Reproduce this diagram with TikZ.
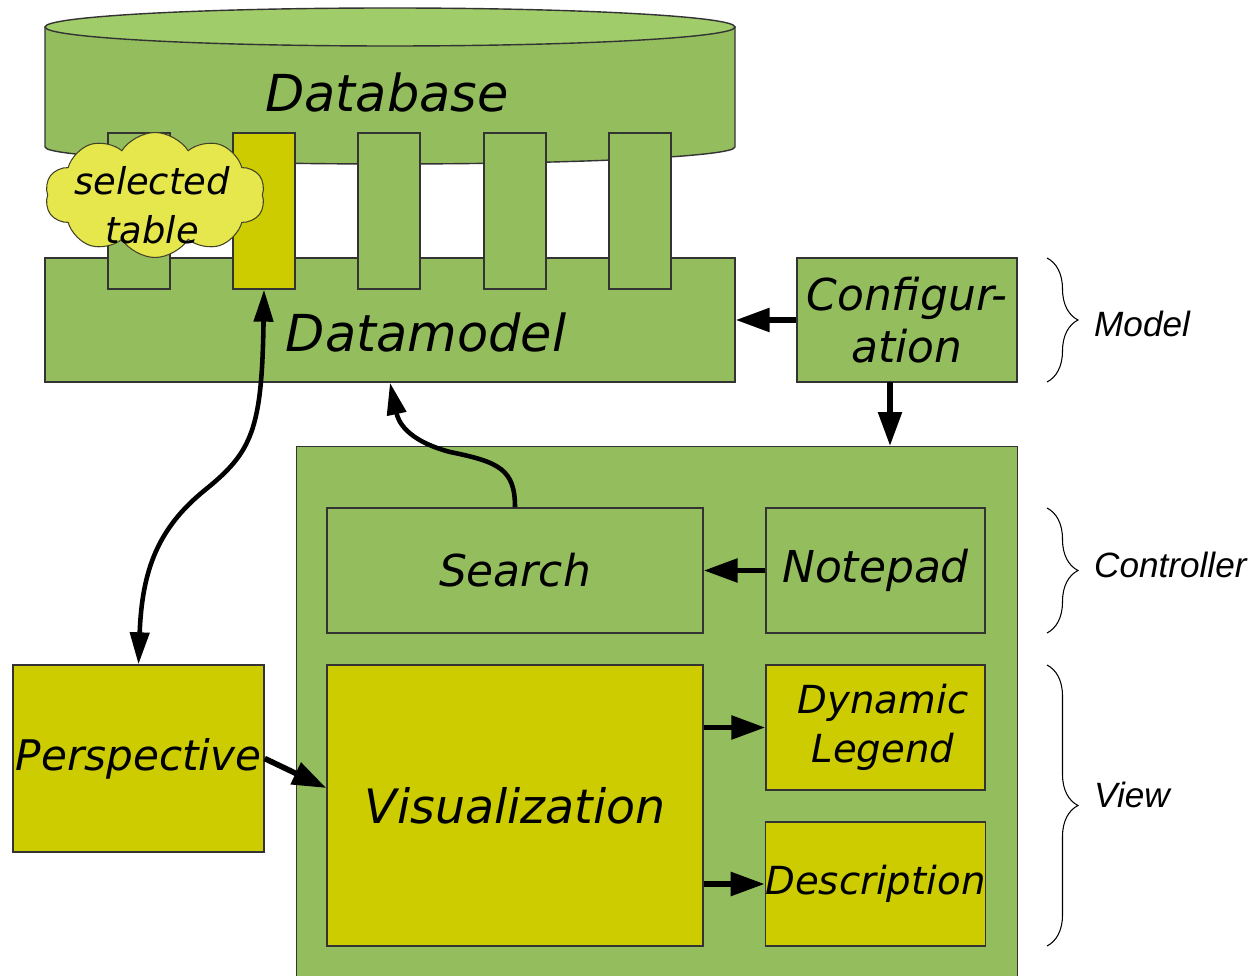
\documentclass[tikz,border=0pt]{standalone}
\usepackage{fontspec}
\setmainfont{DejaVu Sans}
\newfontfamily\sidefont{Liberation Sans}
\usetikzlibrary{arrows.meta,shapes.symbols,decorations.pathreplacing}

\definecolor{dbgreen}{HTML}{94BD5E}
\definecolor{dbtop}{HTML}{A0CC6A}
\definecolor{selyellow}{HTML}{CCCC00}
\definecolor{cloudyellow}{HTML}{E6E64D}
\definecolor{edge}{HTML}{333333}

\begin{document}
\begin{tikzpicture}[x=0.02cm,y=-0.02cm,
    box/.style={draw=edge,line width=0.8pt,fill=dbgreen,inner sep=0pt,font=\itshape\fontsize{25}{30}\selectfont,align=center},
    sel/.style={box,fill=selyellow},
    flow/.style={line width=3.2pt,-{Triangle[length=0.68cm,width=0.46cm]}},
    curved/.style={line width=2.6pt,-{Triangle[length=0.64cm,width=0.38cm]}},
    mvc/.style={decorate,decoration={brace,amplitude=0.62cm},line width=0.6pt},
    side/.style={anchor=west,font=\sidefont\itshape\fontsize{20}{24}\selectfont}]
          \useasboundingbox (0,0) rectangle (1252,976);
          % database drum
          \filldraw [draw=edge,line width=0.8pt,fill=dbgreen] (45,27) -- (45,147) arc [start angle=180,end angle=0,x radius=345,y radius=17] -- (735,27) -- cycle;
          \filldraw [draw=edge,line width=0.8pt,fill=dbtop] (390,27) ellipse [x radius=345,y radius=19];
          \node [font=\itshape\fontsize{29}{34}\selectfont] (database) at (387,93) {Database};
          % model row
          \node [box,minimum width=13.8cm,minimum height=2.48cm] (datamodel) at (390,320) {};
          \foreach \x/\c [count=\i] in {139/dbgreen,264/selyellow,389/dbgreen,515/dbgreen,640/dbgreen}
          \node [box,fill=\c,minimum width=1.24cm,minimum height=3.12cm] (table\i) at (\x,211) {};
          \node [font=\itshape\fontsize{29}{34}\selectfont] (dmtext) at (426,333) {Datamodel};
          \node [cloud,cloud puffs=10,cloud puff arc=115,draw=edge!80!olive,line width=0.6pt,fill=cloudyellow,minimum width=4.4cm,minimum height=2.5cm,inner sep=0pt] (cloud) at (155,195) {};
          \node [font=\itshape\fontsize{21}{28}\selectfont,align=center] (seltext) at (152,205) {selected\\table};
          \node [box,minimum width=4.4cm,minimum height=2.48cm] (config) at (907,320) {Configur-\\ation};
          % controller and view
          \node [box,minimum width=14.42cm,minimum height=10.9cm,anchor=north west] (frame) at (296,446) {};
          \node [box,minimum width=7.52cm,minimum height=2.5cm] (search) at (515,570.5) {Search};
          \node [box,minimum width=4.38cm,minimum height=2.5cm] (notepad) at (875.5,570.5) {Notepad};
          \node [sel,minimum width=7.52cm,minimum height=5.62cm,font=\itshape\fontsize{27}{32}\selectfont] (vis) at (515,805.5) {Visualization};
          \node [sel,minimum width=4.38cm,minimum height=2.5cm,font=\itshape\fontsize{22}{28}\selectfont] (legend) at (875.5,727.5) {\hspace*{0.3cm}Dynamic\\\hspace*{0.3cm}Legend};
          \node [sel,minimum width=4.38cm,minimum height=2.48cm,font=\itshape\fontsize{22}{28}\selectfont] (descr) at (875.5,884) {Description};
          \node [sel,minimum width=5.02cm,minimum height=3.74cm,font=\itshape\fontsize{24}{28}\selectfont] (persp) at (138.5,758.5) {Perspective};
          % arrows
          \coordinate (cfgout) at (890,382);
          \draw [flow] (config.west) -- (datamodel.east);
          \draw [flow] (cfgout) -- (cfgout |- frame.north);
          \draw [flow] (notepad.west) -- (search.east);
          \draw [flow] (vis.east |- legend) -- (legend.west);
          \draw [flow] (vis.east |- descr) -- (descr.west);
          \draw [flow] (persp.east) -- (vis.west |- 0,788);
          \draw [curved] (search.north) .. controls (515,470) and (500,462) .. (450,452) .. controls (405,440) and (398,420) .. (datamodel.south);
          \draw [curved,{Triangle[length=0.64cm,width=0.38cm]}-{Triangle[length=0.64cm,width=0.38cm]}] (table2.south) .. controls (262,430) and (252,452) .. (205,490) .. controls (158,528) and (142,570) .. (persp.north);
          % layers
          \draw [mvc] (1047,258) -- (1047,382);
          \node [side] (model) at (1088,324) {Model};
          \draw [mvc] (1047,508) -- (1047,633);
          \node [side] (controller) at (1088,565) {Controller};
          \draw [mvc] (1047,665) -- (1047,946);
          \node [side] (view) at (1088,795) {View};
      \end{tikzpicture}
\end{document}
